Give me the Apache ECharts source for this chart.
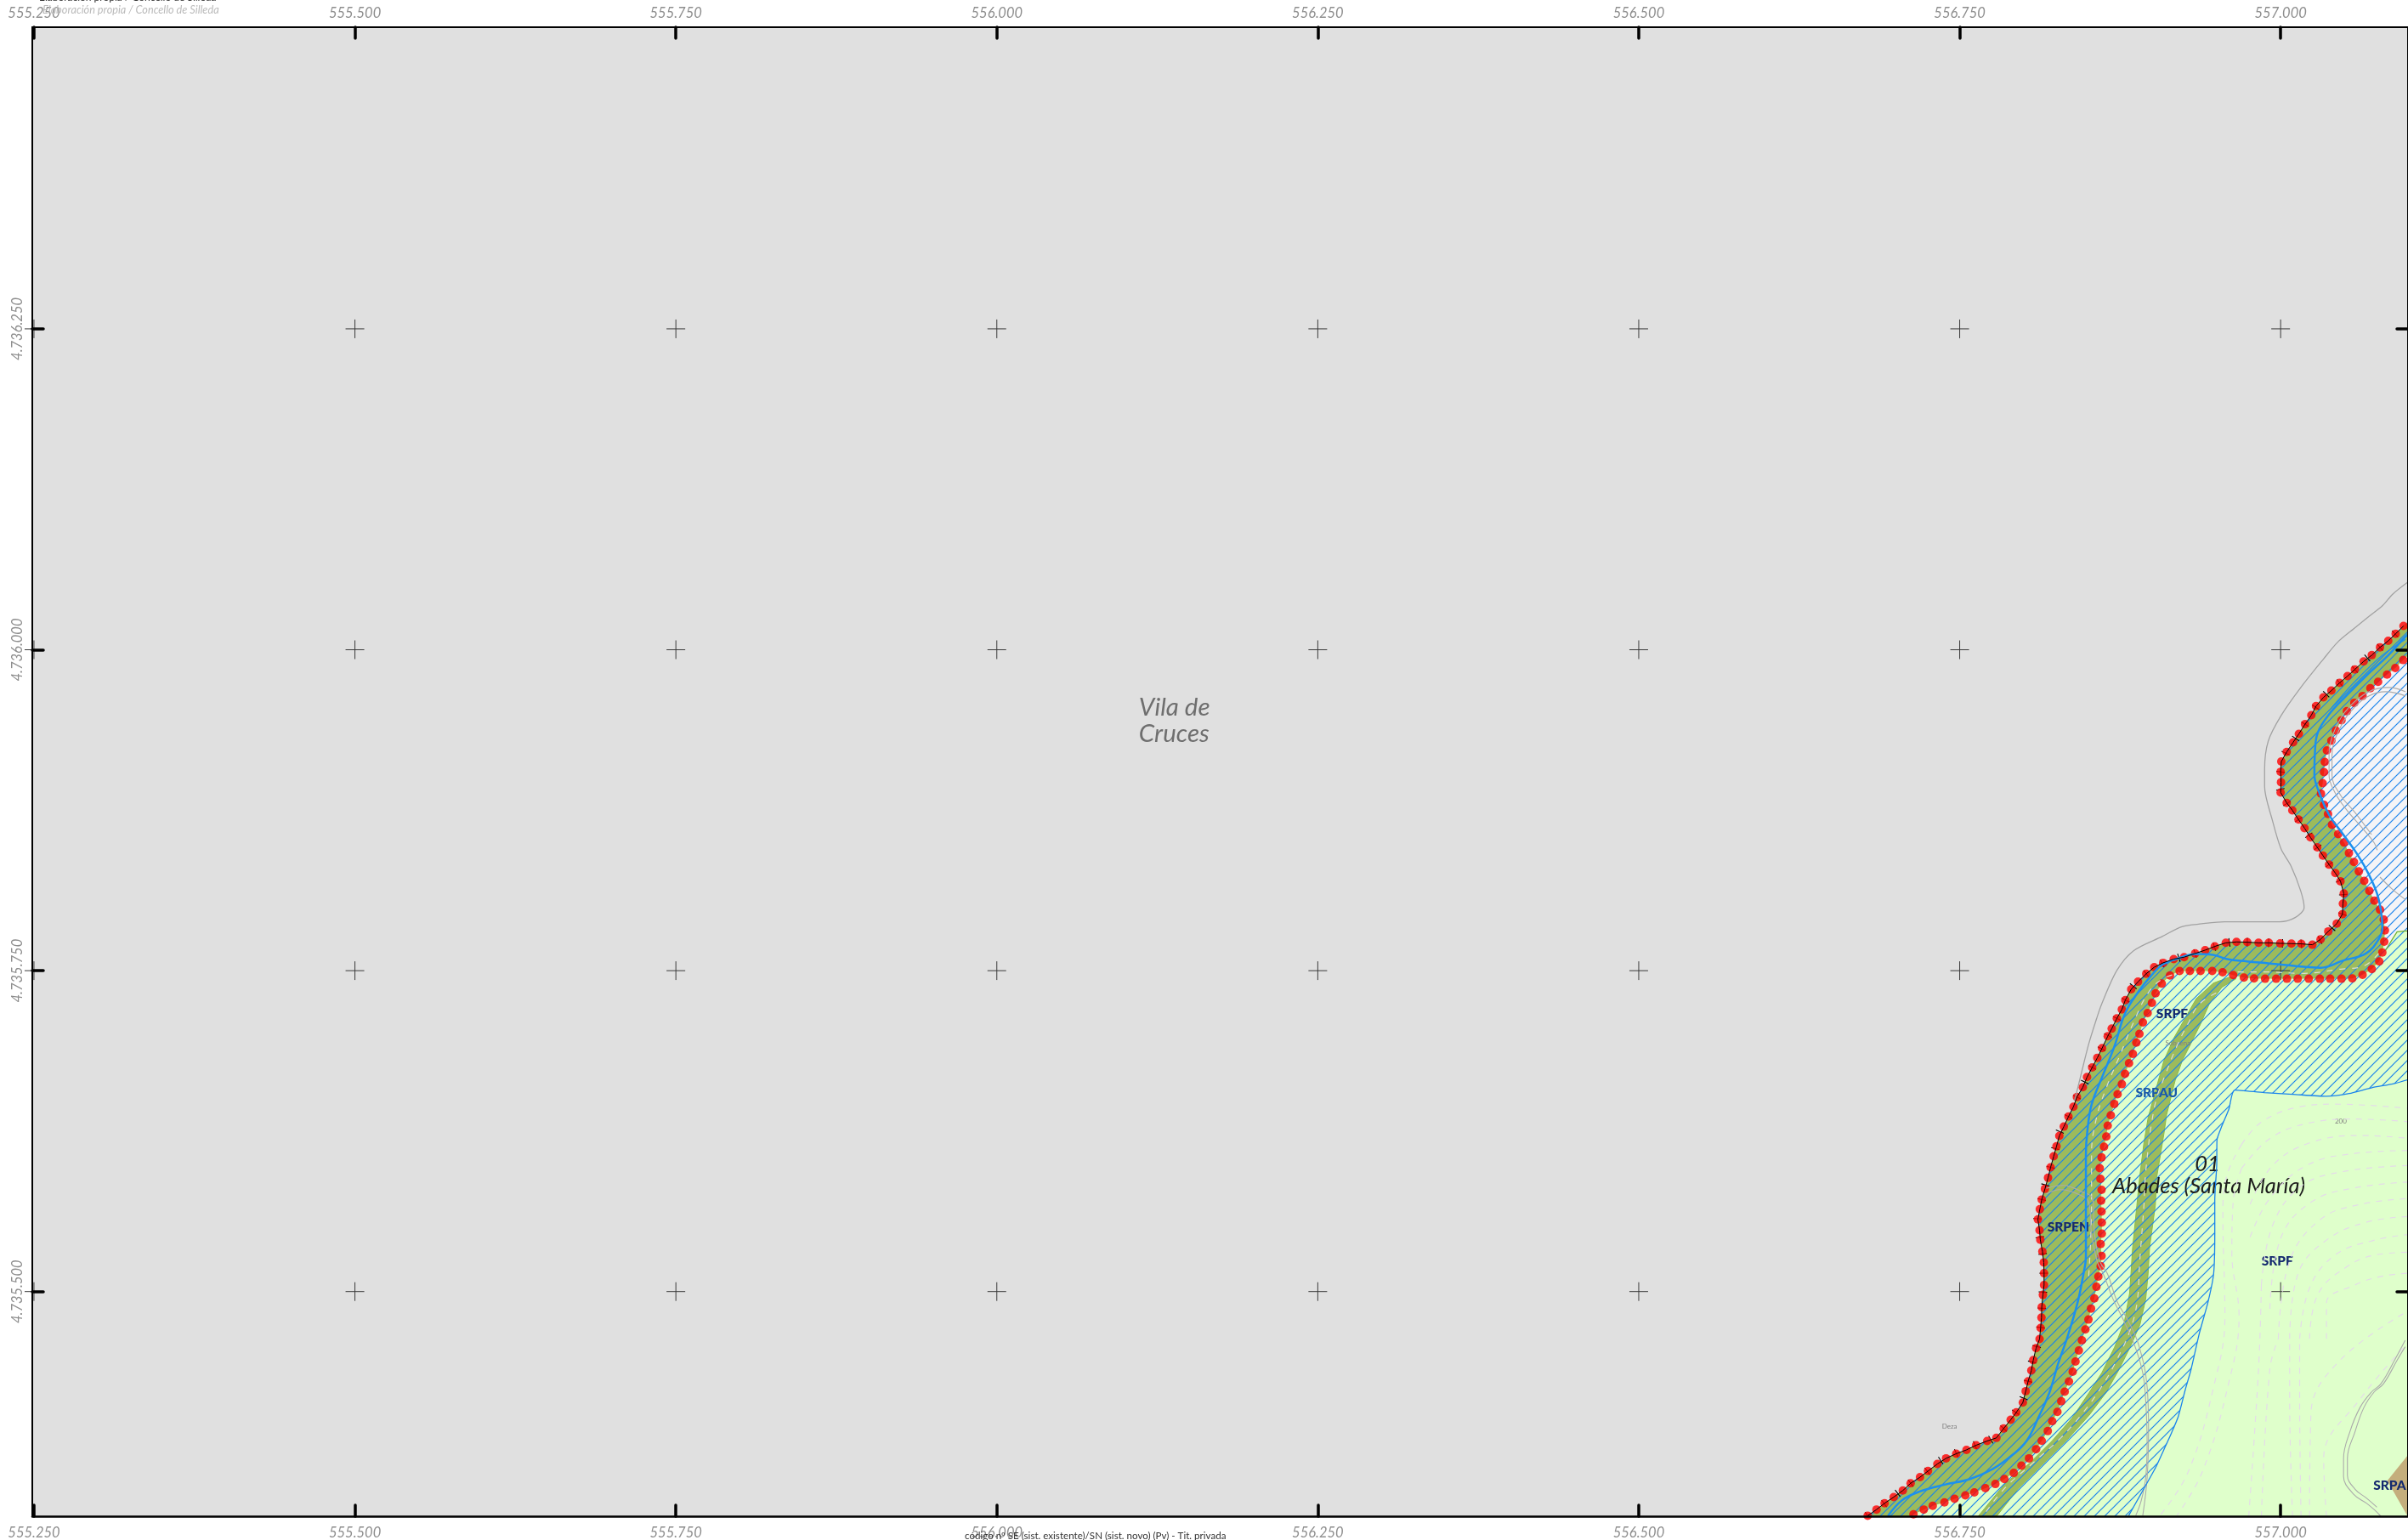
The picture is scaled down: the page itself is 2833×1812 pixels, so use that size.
<!DOCTYPE html>
<html><head><meta charset="utf-8">
<style>html,body{margin:0;padding:0;background:#fff}#c{width:2833px;height:1812px}</style>
<script src="https://cdn.jsdelivr.net/npm/echarts@6/dist/echarts.min.js"></script>
</head><body><div id="c"></div>
<script>
// Map sheet: all lists below are [easting, northing] in metres from the sheet origin
const E0 = 556000, N0 = 4735000;
const xTicks = [555250,555500,555750,556000,556250,556500,556750,557000];
const yTicks = [4735500,4735750,4736000,4736250];

const outerBoundary = [[1095.7,1018.5],[1089.6,1012.5],[1083.8,1007],[1077.4,1001.9],[1071,995.8],[1064.6,990.9],[1057.8,984.7],[1052.1,979.5],[1045.9,974.2],[1039.5,968.2],[1033.3,962.9],[1027.6,956.1],[1023.9,949],[1019,942],[1014.2,934.5],[1009.7,927.9],[1004.7,920.4],[1000.5,912.9],[1000,904.9],[1000.3,896.8],[1000,888.8],[1004.7,880.7],[1009.1,874.9],[1013.9,867.7],[1018.6,861],[1023.2,853.8],[1028.5,846.1],[1032.9,839.7],[1037.7,832.6],[1042.6,826],[1046.6,819.6],[1049.2,810.1],[1048.5,802.2],[1048.1,794],[1043.7,786.7],[1037.1,780.6],[1031.1,774.4],[1024.7,770.2],[1016.1,770.9],[1008.4,771.1],[999.6,771.3],[990.8,771.7],[982.8,771.7],[974,772.2],[965.6,772.4],[957.3,771.7],[948.7,768.9],[941.2,766],[933.4,763.4],[924.8,760.5],[916.7,759],[908.5,756.1],
[901.5,752.7],[895.3,747.6],[888.9,741.4],[883.6,735.5],[879,727.1],[876.3,719.8],[872.4,712.8],[868.4,704.8],[865.3,698.9],[860.9,689.6],[857.2,682.1],[853.2,674.6],[849.2,667.1],[845.9,659.2],[841.3,651.5],[838.6,644],[834.7,636.3],[831.1,628.5],[827.6,621.3],[825.4,613.1],[823.2,605.4],[820.8,596.8],[818.8,588.6],[816.4,580],[813.9,571.7],[812.4,564.2],[810.9,556.2],[812.2,547.8],[812.8,540.3],[814.4,531.3],[815.5,522.7],[815.7,514.3],
[815.7,505.1],[814.8,497.4],[813.9,487.9],[813.7,479.7],[813,471.6],[812.2,463],[809.5,455.9],[807.3,446.6],[805.8,438.5],[803.3,430.1],[801.4,422.4],[799.2,413.6],[794.1,405.9],[789.7,400.1],[784.2,393.3],[778.6,386],[771.4,383.6],[762.8,380.3],[755.3,376.7],[747.3,373.7],[739.4,370.1],[732.6,365.7],[725.3,360.2],[719.1,355.4],[711.8,350.7],[705.7,345],[698.6,339.9],[691.5,335.1],[685.2,330.2],[678.3,325.4]];

const innerBoundary = [[1095.5,992],[1089.3,985.8],[1082.9,980.6],[1075.9,975],[1069.9,970],[1063.8,964],[1057.4,958.7],[1051.6,952.1],[1047.4,945.1],[1043,937.1],[1039.5,929.2],[1036,921.5],[1034.4,912.6],[1033.8,904.7],[1032.7,896.1],[1031.4,887.9],[1033.8,879.1],[1036.9,872.1],[1040,863.7],[1044.8,856.4],[1049.4,849.8],[1053.2,841.6],[1057.1,834.6],[1060.9,827.3],[1065.1,820],[1069.1,812.1],[1073,804.6],[1077.4,797.5],[1080.3,789.8],[1081.2,781.4],[1080.7,772.6],[1079.2,764.2],[1076.8,757.2],[1071,751.2],[1063.8,746.8],[1055.8,744],[1047.4,743.7],[1038.6,743.7],[1030.5,743.7],[1021.9,743.7],[1013.3,743.7],[1004.9,743.7],[996.5,743.7],[987.9,743.7],[979.3,744],[971.4,744.6],[963,746.6],[954.8,748.8],[946.7,749.7],[937.6,749.7],[929.3,749.7],[921.3,749.7],
[913.8,746.3],[907.4,739.9],[902.6,732.4],[899.7,724.9],[896.4,717],[892.7,709.7],[890,700.7],[887.6,694],[884.9,685.2],[881.9,677.9],[878.8,669.6],[876.3,661.6],[873,653.7],[870.4,646.2],[867.7,637.4],[865.3,629.2],[864.2,620.8],[862.4,612.9],[860.5,604.5],[859.1,596.1],[859.6,587.8],[860.5,579.2],[860.2,570.8],[860.5,562.4],[860.7,553.8],[860.7,545.2],[859.8,537],[860.5,527.8],[859.8,519.8],[858,511.7],[856.5,503.7],
[854.9,494.7],[852.3,486.8],[850.3,478.2],[847.9,470.5],[845.2,462.1],[842.8,454.1],[840.2,445.5],[838,437.6],[835.1,429.9],[831.8,422],[829.1,414.5],[826.1,406.3],[822.1,399],[818.6,391.3],[813.9,383.8],[809.5,377.2],[804,370.1],[798.1,364.4],[792.1,358.7],[784.8,354],[777.8,350.1],[770,346.8],[761.4,343.5],[754.4,341.2],[746,338.6],[738.1,335.7],[729,333.1],[722,330.2],[714,326.5]];

const boundaryTicks = [[1089.1,1012.3],[1077.4,1001.9],[1067.5,993.6],[1057.8,984.7],[1045.9,974.2],[1035.5,965.3],[1027.2,955.2],[1019,942],[1011.7,930.9],[1003.8,919.5],[1000,904.9],[999.8,891.3],[1004.9,880.2],[1013.9,867.7],[1021.9,855.5],[1028.9,846.1],[1037.7,832.6],[1046.1,820.3],[1048.8,809.2],[1048.1,794],[1040,783.2],[1030.7,773.9],[1016.1,770.9],[1001.4,771.3],[990.6,771.7],[974,772.2],[960.1,772],[948.4,768.7],[933.4,763.4],[920.7,760.1],[907.7,755.6],[895.3,747.6],[885.2,737.9],[879.2,727.1],[872.4,712.8],[865.5,699.5],[860.5,689.2],[853.2,674.6],[847.5,663.2],[841.3,651.5],[834.7,636.3],[828,624.6],[824.5,611.3],[820.8,596.8],[816.8,583.1],[813.9,571.7],[810.6,556.7],[812.4,542.3],[814.6,529.3],[815.5,514.3],[814.8,499.6],[813.9,487],[813,472],[810,457.2],[806.4,445.1],[803.3,430.1],[799.8,416.9],[793.6,405.9],[784.2,393.3],[774.2,384.7],[761.9,380.3],[747.3,374.1],[735.2,368.4],[724.8,360],[711.8,350.7],[701.7,342.8],[691.1,334.9],[678.3,325.4]];

const eastHatchEdge = [[881.6,325.4],[891.5,343],[902.6,362.9],[909.2,377.2],[914.7,389.3],[920.2,402.5],[925.7,423.5],[930.1,438.9],[936.7,467.6],[943.4,491.8],[947.8,513.9],[948.7,545.2],[948.7,571.7],[950.2,598.1],[950.4,618],[954.2,629],[959.7,642.2],[964.1,657],[987.3,655],[1009.3,653.7],[1035.8,652.1],[1053.4,654.3],[1071,658.8],[1088.7,662.1],[1112,669]];
const whiteAreaEdge = [[1081.8,766],[1086.3,773.3],[1090.7,780.3],[1097.3,781],[1112,781]];
const sideBandEast = [[965.2,743.7],[954.2,737],[944.3,723.8],[937.6,708.4],[929.9,692.9],[923.3,679.7],[917.8,664.3],[911.2,637.8],[909,622.4],[903.5,589.3],[902.4,567.2],[897.9,534.2],[896.8,514.3],[894.9,494.1],[890.4,474.2],[882.7,456.6],[873.9,438.9],[864,421.3],[850.8,403.6],[833.1,383.8],[811.1,361.8],[795.6,346.3],[779.1,325.4],[774.7,319.9]];
const sideBandWest = [[760.3,319.9],[764.8,325.4],[784.6,349.6],[804.4,366.2],[822.1,383.8],[837.5,401.4],[850.8,421.3],[860.7,436.7],[870.6,456.6],[878.3,476.4],[882.3,498.5],[883.4,513.9],[884.7,534.2],[888,567.2],[890.2,589.3],[893.5,615.8],[896.8,635.6],[903.5,659.9],[909,679.7],[916.7,697.3],[925.5,712.8],[934.3,728.2],[947.6,740.3],[959.7,744.8]];
const tanArea = [[1083.1,352.6],[1104.1,378.7],[1104.1,315.9]];

const river = [[1112,1024],[1097.3,1010.3],[1084.1,996],[1066.4,979.5],[1051,964],[1037.7,949.7],[1028.9,935.4],[1026.7,919.9],[1026.3,902.3],[1030,889],[1037.7,871.4],[1048.8,856],[1059.8,840.5],[1068.6,825.1],[1075.2,809.7],[1078.5,794.2],[1079.2,783.2],[1076.3,774.4],[1066.4,763.4],[1048.8,757.9],[1031.1,752.3],[1013.5,753.4],[991.4,755.6],[973.8,757.2],[958.4,759],[947.3,762.3],[934.1,762.9],[918.7,759],[907.7,754.5],[898.8,745.7],[890,734.7],[879,717.1],[870.4,690.7],[861.6,668.7],[852.7,645.5],[849.4,624.6],[848.3,606.9],[848.3,567.2],[848.3,527.6],[846.1,512.1],[841.9,491.8],[834.2,465.4],[826.5,443.3],[819.9,421.3],[811.1,401.4],[802.2,383.8],[791.2,372.8],[775.8,361.8],[758.1,354],[738.3,349.6],[718.5,344.1],[705.2,337.5],[694.2,325.4]];
const riverBranch = [[1097.3,1008.1],[1079.6,996],[1057.6,975],[1040,955.2]];

const terrainEdge = [[1099.5,1053],[1087.4,1043.4],[1079.6,1034.6],[1068.6,1025.8],[1057.6,1016.9],[1044.4,1005.9],[1033.3,992.7],[1015.7,970.6],[1000.3,948.6],[990.3,928.7],[987.5,906.7],[987.5,893.5],[993.6,867],[1000.3,844.9],[1008,831.7],[1015.7,811.9],[1018.3,799.1],[1011.3,791.4],[999.2,788.1],[978.2,788.1],[956.2,788.1],[938.5,786.5],[923.1,784.3],[907.7,776.6],[885.6,765.6],[872.4,750.1],[860.5,723.8],[856.7,712.8],[850.5,692.9],[843.9,666.5],[839.5,648.8]];
const roads = [
 [[1097.3,967.3],[1084.1,970.6],[1068.6,967.3],[1053.2,955.2],[1042.2,937.6],[1037.7,917.7],[1037.7,902.3],[1042.2,889],[1051,875.8],[1064.2,860.4],[1073,849.4],[1075.2,843.8]],
 [[1097.3,964],[1081.8,967.3],[1068.6,964],[1057.6,955.2],[1046.6,939.8],[1040,917.7],[1040,902.3],[1046.6,886.8],[1057.6,873.6],[1070.8,856]],
 [[1077.4,822.9],[1086.3,814.1],[1097.3,805.3]],
 [[817.5,576.1],[828.5,579.4],[841.7,576.1],[850.5,569.5],[852.7,545.2],[857.2,523.1],[861.8,513.9],[869.5,494.1],[877.2,478.6],[886,458.8],[892.6,436.7],[894.9,414.7],[896,381.6],[894.9,355.1],[891.5,337.5],[887.1,325.4]],
 [[817.5,580.5],[830.7,582.7],[843.9,578.3],[853.8,571.7],[855,545.2],[859.4,523.1],[865.1,513.9],[872.8,491.8],[880.5,478.6],[889.3,458.8],[896,425.7],[897.1,392.6],[896,355.1],[892.6,325.4]],
 [[1097,462],[1089,447],[1078,428],[1071,422],[1062,410],[1054,391],[1049,370],[1049,356],[1057,342],[1067,335],[1073,330],[1078,325]],
 [[1097,457],[1091,447],[1080,428],[1073,422],[1065,410],[1058,391],[1052,370],[1052,357],[1058,346],[1067,339],[1075,332]]
];
const paleDashes = [
 [[850.5,512.1],[852.7,567.2],[852.7,606.9],[856.1,633.4],[863.8,657.7],[874.8,684.1],[885.8,710.6],[896.8,732.6],[907.9,743.6],[921.1,748.1]],
 [[1076.3,763.4],[1064.2,753.4],[1046.6,751.2],[1017.9,747.9],[987,749],[962.8,749]],
 [[949.8,732.6],[936.5,723.8],[927.7,708.4],[918.9,690.7],[910.1,668.7],[903.5,651],[899.1,629],[896.8,611.3],[894.6,589.3],[893.5,567.2],[890.2,523.1],[888.2,491.8],[882.7,469.8],[872.8,447.7],[861.8,427.9],[846.3,405.9],[828.7,386],[806.7,366.2],[784.6,346.3],[769.2,326.5]]
];
const contours = [
 [[969.6,614.6],[985,632],[1013.7,643.7],[1042.3,646],[1102,642.5]],
 [[969.6,596],[991.6,619.2],[1020.3,630.9],[1057.8,634.4],[1102,632.1]],
 [[976.2,568],[993.8,598.3],[1022.5,615.8],[1062.2,621.6],[1102,619.2]],
 [[976.2,542.4],[991.6,572.7],[1020.3,598.3],[1057.8,607.6],[1102,609.9]],
 [[985,505.1],[993.8,551.7],[1015.9,582],[1049,593.6],[1102,598.3]],
 [[991.6,486.5],[1000.4,542.4],[1024.7,570.3],[1057.8,580.8],[1102,585.5]],
 [[998.2,463.2],[1007,523.8],[1031.3,556.4],[1062.2,568],[1102,572.7]],
 [[1007,463.2],[1013.7,514.4],[1035.7,540.1],[1066.6,554],[1102,558.7]],
 [[1014.8,463.2],[1022.5,502.8],[1042.3,528.4],[1073.2,540.1],[1102,544.7]],
 [[1022.5,463.2],[1029.1,498.1],[1051.2,519.1],[1073.2,528.4],[1102,530.7]],
 [[1035.7,463.2],[1035.7,491.2],[1057.8,505.1],[1079.8,512.1],[1102,514.4]],
 [[975.1,324.6],[982.8,439.9],[985,505.1]],
 [[985,324.6],[991.6,439.9],[998.2,463.2]],
 [[1009.3,324.6],[1007,416.6],[1007,463.2]],
 [[1015.9,324.6],[1014.8,416.6],[1014.8,463.2]],
 [[1022.5,324.6],[1023.6,405],[1046.7,446.9],[1102,486.5]],
 [[1035.7,324.6],[1033.5,370],[1062.2,416.6],[1102,463.2]],
 [[969.6,614.6],[958,590],[955,560],[956.6,480.8],[947.8,425.7],[928,359.6],[905.9,325.4]],
 [[969.6,596],[963,570],[962,530],[967.6,480.8],[958.8,425.7],[939,359.6],[919.1,325.4]]
];

const placeLabels = [["Vila de",110.6,955],["Cruces",110.6,934.5]];
const localityLabels = [["01",943,599.4],["Abades (Santa María)",944,582]];
const navyLabels = [["SRPF",915.4,716.3],["SRPEN",834.6,550.2],["SRPF",997.4,523.8]];
const navyLeftLabels = [["SRPA",1072.2,348.9]];
const blueLabels = [["SRPAU",903.4,654.7]];
const tinyLabels = [["Deza",742.1,394.8],["200",1046.8,632.5],["Sobcena",920,693.8]];

const eastEdgeTop = [[1112,1034]], eastEdgeInnerTop = [[1112,1008]];
const southOuter = [[670,318]], southInner = [[706,318]], southEast = [[1112,318]];

const toMap = pts => pts.map(p => [E0 + p[0], N0 + p[1]]);
const FONT = 'Lato';

function hatch(){
  const s = 12, c = document.createElement('canvas'); c.width = s; c.height = s;
  const g = c.getContext('2d'); g.strokeStyle = '#1A84EC'; g.lineWidth = 1.2;
  [[0,s,s,0],[-s/2,s/2,s/2,-s/2],[s/2,s+s/2,s+s/2,s/2]].forEach(l => {g.beginPath();g.moveTo(l[0],l[1]);g.lineTo(l[2],l[3]);g.stroke();});
  return c;
}
const hatchImg = hatch();

function polyS(list, style){
  const pts = toMap(list);
  return {type:'custom',coordinateSystem:'cartesian2d',clip:true,silent:true,encode:{x:0,y:1},data:pts,
    renderItem:(p,api)=> p.dataIndex===0 ? {type:'polygon',shape:{points:pts.map(q=>api.coord(q))},style:style} : null};
}
function lineS(list, color, width, type, smooth){
  return {type:'line',data:toMap(list),showSymbol:false,silent:true,clip:true,smooth:smooth===undefined?0.3:smooth,
    lineStyle:{color:color,width:width,type:type||'solid'},itemStyle:{color:color}};
}
function textS(list, font, fill, align){
  const d = toMap(list.map(l=>[l[1],l[2]]));
  return {type:'custom',coordinateSystem:'cartesian2d',clip:false,silent:true,encode:{x:0,y:1},data:d,
    renderItem:(p,api)=>{const c=api.coord([api.value(0),api.value(1)]);
      return {type:'text',x:c[0],y:c[1],style:{text:list[p.dataIndex][0],font:font,fill:fill,align:align||'center',verticalAlign:'middle'}};}};
}

const crossData = []; xTicks.forEach(x=>yTicks.forEach(y=>crossData.push([x,y])));
const tickData = toMap(boundaryTicks);

const series = [
  polyS([...eastEdgeTop,...outerBoundary,...southOuter,...southEast],{fill:'#DFFFCB'}),
  ...contours.map(c=>lineS(c,'#E4DCE8',1.2,[7,7],0.4)),
  polyS([...eastEdgeInnerTop,...innerBoundary.slice(0,31),...whiteAreaEdge],{fill:'#F4F4F7'}),
  polyS([...sideBandEast,...sideBandWest],{fill:'#9CBB5C',stroke:'#8DBB45',lineWidth:1}),
  polyS([...eastEdgeTop,...outerBoundary,...southOuter,...southInner,...innerBoundary.slice().reverse(),...eastEdgeInnerTop],{fill:'#9CBB5C'}),
  polyS(tanArea,{fill:'#C4AE7C'}),
  ...paleDashes.map(c=>lineS(c,'#DDE0D0',1.2,[7,8],0.4)),
  ...roads.map(c=>lineS(c,'#ABABAB',1.1,'solid',0.4)),
  polyS([...eastEdgeTop,...outerBoundary,...southOuter,...eastHatchEdge],{fill:{image:hatchImg,repeat:'repeat'}}),
  lineS(eastHatchEdge,'#1A84EC',1.3,'solid',0.2),
  lineS(whiteAreaEdge,'#6FB02F',1.2,'solid',0),
  lineS(terrainEdge,'#A2A2A2',1.3,'solid',0.3),
  lineS(river,'#1C90EE',2.5,'solid',0.4),
  lineS(riverBranch,'#1C90EE',1.2,'solid',0.3),
  lineS(outerBoundary,'#000',1,'solid',0),
  {type:'scatter',data:toMap(outerBoundary),symbol:'circle',symbolSize:10,silent:true,clip:true,itemStyle:{color:'#FF0000'}},
  {type:'scatter',data:toMap(innerBoundary),symbol:'circle',symbolSize:10,silent:true,clip:true,itemStyle:{color:'#FF0000'}},
  {type:'custom',coordinateSystem:'cartesian2d',clip:true,silent:true,encode:{x:0,y:1},data:tickData,
    renderItem:(p,api)=>{
      const i=p.dataIndex,c=api.coord(tickData[i]),a=api.coord(tickData[Math.max(0,i-1)]),b=api.coord(tickData[Math.min(tickData.length-1,i+1)]);
      let dx=b[0]-a[0],dy=b[1]-a[1];const L=Math.hypot(dx,dy)||1;dx/=L;dy/=L;const h=5;
      return {type:'line',shape:{x1:c[0]-dy*h,y1:c[1]+dx*h,x2:c[0]+dy*h,y2:c[1]-dx*h},style:{stroke:'#000',lineWidth:1.1}};
    }},
  {type:'custom',coordinateSystem:'cartesian2d',clip:false,silent:true,encode:{x:0,y:1},data:crossData,
    renderItem:(p,api)=>{const c=api.coord([api.value(0),api.value(1)]),h=11,st={stroke:'#3a3a3a',lineWidth:1};
      return {type:'group',children:[
        {type:'line',shape:{x1:c[0]-h,y1:c[1],x2:c[0]+h,y2:c[1]},style:st},
        {type:'line',shape:{x1:c[0],y1:c[1]-h,x2:c[0],y2:c[1]+h},style:st}]};}},
  textS(placeLabels,'italic 29.5px '+FONT,'#6E6E6E','left'),
  textS(localityLabels,'italic 25.5px '+FONT,'#1c1c1c'),
  textS(navyLabels,'900 15.5px '+FONT,'#14296E'),
  textS(navyLeftLabels,'900 15.5px '+FONT,'#14296E','left'),
  textS(blueLabels,'900 15.5px '+FONT,'#1A59A8'),
  textS(tinyLabels,'8px '+FONT,'#808080')
];

const fmt = v => { const s=String(Math.round(v)); return s.replace(/\B(?=(\d{3})+(?!\d))/g,'.'); };
const labelBase = {color:'#8E8E8E',fontStyle:'italic',fontFamily:FONT,fontSize:16.5,formatter:fmt};
function hAxis(pos, margin, lw){
  return {type:'value',position:pos,min:555248.7,max:557099.2,z:10,
    axisLine:{show:true,onZero:false,lineStyle:{color:'#000',width:lw}},
    axisTick:{show:true,inside:true,length:13,customValues:xTicks,lineStyle:{color:'#000',width:3.5,cap:'round'}},
    axisLabel:Object.assign({show:true,margin:margin,customValues:xTicks},labelBase),
    splitLine:{show:false},minorTick:{show:false}};
}
function vAxis(pos, showLabel){
  return {type:'value',position:pos,min:4735325,max:4736485,z:10,
    axisLine:{show:true,onZero:false,lineStyle:{color:'#000',width:2}},
    axisTick:{show:true,inside:true,length:13,customValues:yTicks,lineStyle:{color:'#000',width:3.5,cap:'round'}},
    axisLabel:Object.assign({show:showLabel,rotate:90,margin:9,customValues:yTicks},labelBase),
    splitLine:{show:false}};
}

const chart = echarts.init(document.getElementById('c'),null,{renderer:'canvas'});
chart.setOption({
  animation:false,backgroundColor:'#fff',
  grid:{left:38,top:32,width:2799,height:1754.5,show:true,backgroundColor:'#E0E0E0',borderWidth:0,containLabel:false},
  xAxis:[hAxis('bottom',11,2.5),hAxis('top',8,2)],
  yAxis:[vAxis('left',true),vAxis('right',false)],
  tooltip:{show:false},legend:{show:false},
  series:series,
  graphic:[
    {type:'text',left:46,top:-9,z:20,style:{text:'Elaboración propia / Concello de Silleda',font:'12px '+FONT,fill:'#333'}},
    {type:'text',left:50,top:5,z:20,style:{text:'Elaboración propia / Concello de Silleda',font:'italic 12.7px '+FONT,fill:'#BBBBBB'}},
    {type:'text',left:1135,top:1801,z:20,style:{text:'código nº SE (sist. existente)/SN (sist. novo) (Pv) - Tit. privada',font:'11.6px '+FONT,fill:'#333'}}
  ]
});
</script></body></html>
